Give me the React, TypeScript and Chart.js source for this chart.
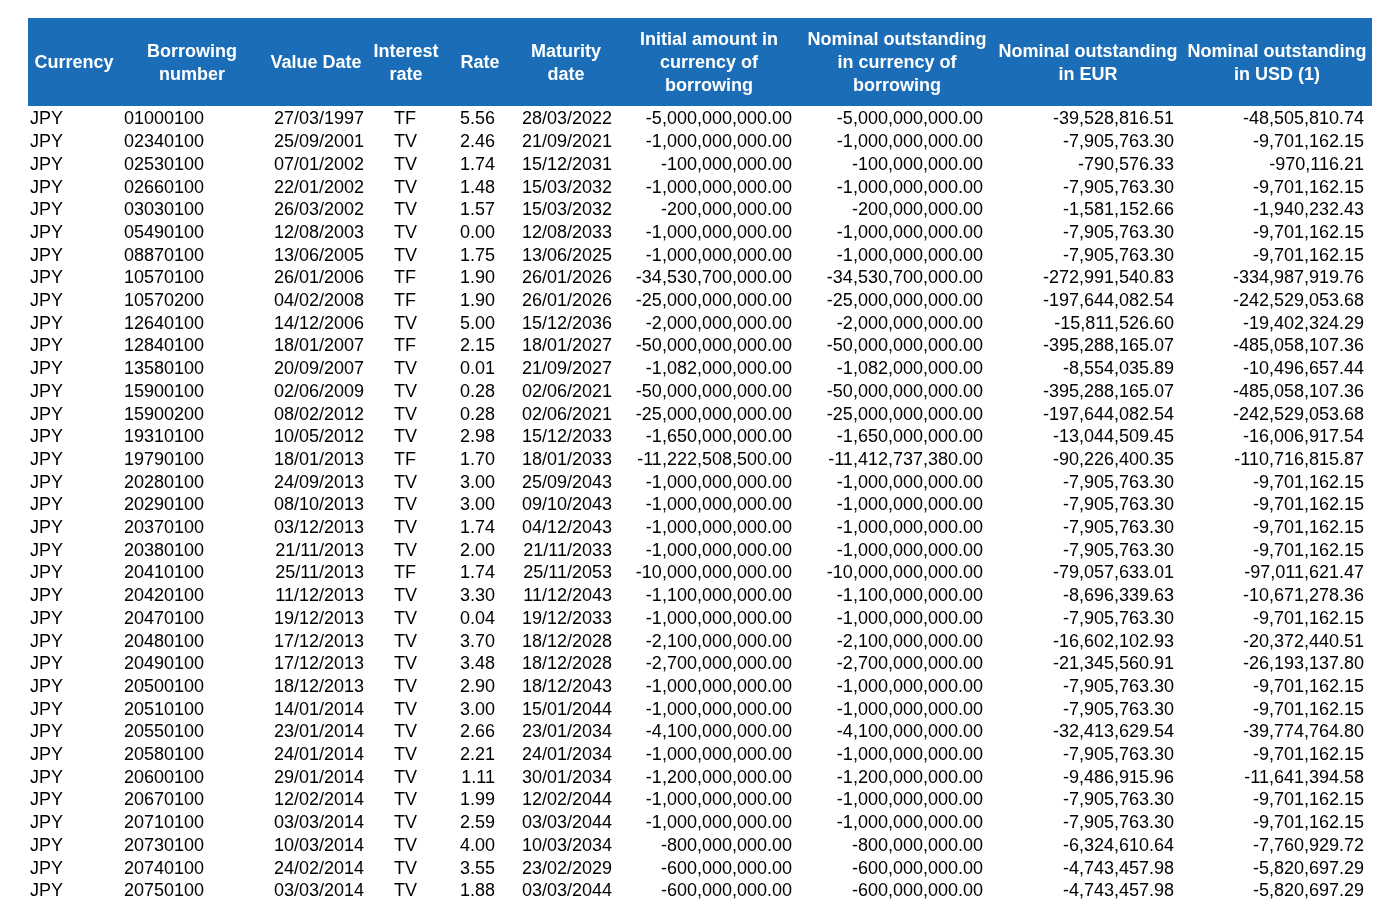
import React, { useEffect, useRef } from "react";
import { Chart, registerables } from "chart.js";

Chart.register(...registerables);

// ---------- DATA ----------
const headers: string[][] = [
  ["Currency"],
  ["Borrowing", "number"],
  ["Value Date"],
  ["Interest", "rate"],
  ["Rate"],
  ["Maturity", "date"],
  ["Initial amount in", "currency of", "borrowing"],
  ["Nominal outstanding", "in currency of", "borrowing"],
  ["Nominal outstanding", "in EUR"],
  ["Nominal outstanding", "in USD (1)"],
];

const currencies: string[] = Array.from({ length: 35 }, () => "JPY");

const borrowingNumbers: string[] = [
  "01000100", "02340100", "02530100", "02660100", "03030100", "05490100", "08870100",
  "10570100", "10570200", "12640100", "12840100", "13580100", "15900100", "15900200",
  "19310100", "19790100", "20280100", "20290100", "20370100", "20380100", "20410100",
  "20420100", "20470100", "20480100", "20490100", "20500100", "20510100", "20550100",
  "20580100", "20600100", "20670100", "20710100", "20730100", "20740100", "20750100",
];

const valueDates: string[] = [
  "27/03/1997", "25/09/2001", "07/01/2002", "22/01/2002", "26/03/2002", "12/08/2003", "13/06/2005",
  "26/01/2006", "04/02/2008", "14/12/2006", "18/01/2007", "20/09/2007", "02/06/2009", "08/02/2012",
  "10/05/2012", "18/01/2013", "24/09/2013", "08/10/2013", "03/12/2013", "21/11/2013", "25/11/2013",
  "11/12/2013", "19/12/2013", "17/12/2013", "17/12/2013", "18/12/2013", "14/01/2014", "23/01/2014",
  "24/01/2014", "29/01/2014", "12/02/2014", "03/03/2014", "10/03/2014", "24/02/2014", "03/03/2014",
];

const interestTypes: string[] = [
  "TF", "TV", "TV", "TV", "TV", "TV", "TV",
  "TF", "TF", "TV", "TF", "TV", "TV", "TV",
  "TV", "TF", "TV", "TV", "TV", "TV", "TF",
  "TV", "TV", "TV", "TV", "TV", "TV", "TV",
  "TV", "TV", "TV", "TV", "TV", "TV", "TV",
];

const rates: number[] = [
  5.56, 2.46, 1.74, 1.48, 1.57, 0.0, 1.75,
  1.9, 1.9, 5.0, 2.15, 0.01, 0.28, 0.28,
  2.98, 1.7, 3.0, 3.0, 1.74, 2.0, 1.74,
  3.3, 0.04, 3.7, 3.48, 2.9, 3.0, 2.66,
  2.21, 1.11, 1.99, 2.59, 4.0, 3.55, 1.88,
];

const maturityDates: string[] = [
  "28/03/2022", "21/09/2021", "15/12/2031", "15/03/2032", "15/03/2032", "12/08/2033", "13/06/2025",
  "26/01/2026", "26/01/2026", "15/12/2036", "18/01/2027", "21/09/2027", "02/06/2021", "02/06/2021",
  "15/12/2033", "18/01/2033", "25/09/2043", "09/10/2043", "04/12/2043", "21/11/2033", "25/11/2053",
  "11/12/2043", "19/12/2033", "18/12/2028", "18/12/2028", "18/12/2043", "15/01/2044", "23/01/2034",
  "24/01/2034", "30/01/2034", "12/02/2044", "03/03/2044", "10/03/2034", "23/02/2029", "03/03/2044",
];

const initialAmounts: number[] = [
  -5000000000, -1000000000, -100000000, -1000000000, -200000000, -1000000000, -1000000000,
  -34530700000, -25000000000, -2000000000, -50000000000, -1082000000, -50000000000, -25000000000,
  -1650000000, -11222508500, -1000000000, -1000000000, -1000000000, -1000000000, -10000000000,
  -1100000000, -1000000000, -2100000000, -2700000000, -1000000000, -1000000000, -4100000000,
  -1000000000, -1200000000, -1000000000, -1000000000, -800000000, -600000000, -600000000,
];

const nominalCcy: number[] = [
  -5000000000, -1000000000, -100000000, -1000000000, -200000000, -1000000000, -1000000000,
  -34530700000, -25000000000, -2000000000, -50000000000, -1082000000, -50000000000, -25000000000,
  -1650000000, -11412737380, -1000000000, -1000000000, -1000000000, -1000000000, -10000000000,
  -1100000000, -1000000000, -2100000000, -2700000000, -1000000000, -1000000000, -4100000000,
  -1000000000, -1200000000, -1000000000, -1000000000, -800000000, -600000000, -600000000,
];

const nominalEur: number[] = [
  -39528816.51, -7905763.3, -790576.33, -7905763.3, -1581152.66, -7905763.3, -7905763.3,
  -272991540.83, -197644082.54, -15811526.6, -395288165.07, -8554035.89, -395288165.07, -197644082.54,
  -13044509.45, -90226400.35, -7905763.3, -7905763.3, -7905763.3, -7905763.3, -79057633.01,
  -8696339.63, -7905763.3, -16602102.93, -21345560.91, -7905763.3, -7905763.3, -32413629.54,
  -7905763.3, -9486915.96, -7905763.3, -7905763.3, -6324610.64, -4743457.98, -4743457.98,
];

const nominalUsd: number[] = [
  -48505810.74, -9701162.15, -970116.21, -9701162.15, -1940232.43, -9701162.15, -9701162.15,
  -334987919.76, -242529053.68, -19402324.29, -485058107.36, -10496657.44, -485058107.36, -242529053.68,
  -16006917.54, -110716815.87, -9701162.15, -9701162.15, -9701162.15, -9701162.15, -97011621.47,
  -10671278.36, -9701162.15, -20372440.51, -26193137.8, -9701162.15, -9701162.15, -39774764.8,
  -9701162.15, -11641394.58, -9701162.15, -9701162.15, -7760929.72, -5820697.29, -5820697.29,
];

// ---------- FORMATTING ----------
const fmtMoney = (v: number): string => {
  const s = Math.abs(v).toFixed(2);
  const [i, d] = s.split(".");
  return (v < 0 ? "-" : "") + i.replace(/\B(?=(\d{3})+(?!\d))/g, ",") + "." + d;
};

const columnTexts: string[][] = [
  currencies,
  borrowingNumbers,
  valueDates,
  interestTypes,
  rates.map((r) => r.toFixed(2)),
  maturityDates,
  initialAmounts.map(fmtMoney),
  nominalCcy.map(fmtMoney),
  nominalEur.map(fmtMoney),
  nominalUsd.map(fmtMoney),
];

// ---------- LAYOUT / STYLE ----------
const W = 1400;
const H = 919;
const ROW_PX = 22.7;
const FIRST_ROW_PX = 118;
const Y_MIN = -FIRST_ROW_PX / ROW_PX;
const Y_MAX = Y_MIN + H / ROW_PX;

type Align = "left" | "right" | "center";
const colLayout: { headerX: number; dataX: number; align: Align }[] = [
  { headerX: 74, dataX: 30, align: "left" },
  { headerX: 192, dataX: 124, align: "left" },
  { headerX: 316, dataX: 364, align: "right" },
  { headerX: 406, dataX: 394, align: "left" },
  { headerX: 480, dataX: 495, align: "right" },
  { headerX: 566, dataX: 612, align: "right" },
  { headerX: 709, dataX: 792, align: "right" },
  { headerX: 897, dataX: 983, align: "right" },
  { headerX: 1088, dataX: 1174, align: "right" },
  { headerX: 1277, dataX: 1364, align: "right" },
];

const HEADER_LEFT = 28;
const HEADER_RIGHT = 1372;
const HEADER_TOP = Y_MIN + 18 / ROW_PX;
const HEADER_BOTTOM = Y_MIN + 106 / ROW_PX;
const HEADER_MID = Y_MIN + 62 / ROW_PX;
const HEADER_LINE_PX = 23;
const HEADER_BG = "#1a6db6";
const FONT_FAMILY = '"Liberation Sans", Arial, Helvetica, sans-serif';
const FONT_SIZE = 18;
const CAP_HALF = FONT_SIZE * 0.716 * 0.5;

const tablePlugin = {
  id: "tableText",
  beforeDatasetsDraw(chart: any) {
    const { ctx, scales } = chart;
    const xs = scales.x;
    const ys = scales.y;
    ctx.save();
    const left = xs.getPixelForValue(HEADER_LEFT);
    const right = xs.getPixelForValue(HEADER_RIGHT);
    const top = ys.getPixelForValue(HEADER_TOP);
    const bottom = ys.getPixelForValue(HEADER_BOTTOM);
    ctx.fillStyle = HEADER_BG;
    ctx.fillRect(left, top, right - left, bottom - top);
    ctx.fillStyle = "#ffffff";
    ctx.font = `bold ${FONT_SIZE}px ${FONT_FAMILY}`;
    ctx.textAlign = "center";
    ctx.textBaseline = "alphabetic";
    const mid = ys.getPixelForValue(HEADER_MID);
    headers.forEach((lines, c) => {
      const x = xs.getPixelForValue(colLayout[c].headerX);
      const n = lines.length;
      lines.forEach((line, k) => {
        const y = mid + (k - (n - 1) / 2) * HEADER_LINE_PX;
        ctx.fillText(line, x, y + CAP_HALF);
      });
    });
    ctx.restore();
  },
  afterDatasetsDraw(chart: any) {
    const { ctx } = chart;
    ctx.save();
    ctx.fillStyle = "#000000";
    ctx.font = `${FONT_SIZE}px ${FONT_FAMILY}`;
    ctx.textBaseline = "alphabetic";
    chart.data.datasets.forEach((ds: any, c: number) => {
      const meta = chart.getDatasetMeta(c);
      ctx.textAlign = colLayout[c].align;
      meta.data.forEach((el: any, i: number) => {
        ctx.fillText(columnTexts[c][i], el.x, el.y + CAP_HALF);
      });
    });
    ctx.restore();
  },
};

export default function App() {
  const ref = useRef<HTMLCanvasElement | null>(null);
  useEffect(() => {
    if (!ref.current) return;
    const chart = new Chart(ref.current, {
      type: "scatter",
      data: {
        datasets: columnTexts.map((col, c) => ({
          label: headers[c].join(" "),
          data: col.map((_, i) => ({ x: colLayout[c].dataX, y: i })),
          pointRadius: 0,
          pointHoverRadius: 0,
          showLine: false,
        })),
      },
      options: {
        responsive: false,
        animation: false,
        devicePixelRatio: 1,
        events: [],
        layout: { padding: 0 },
        plugins: { legend: { display: false }, tooltip: { enabled: false } },
        scales: {
          x: { type: "linear", min: 0, max: W, display: false },
          y: { type: "linear", min: Y_MIN, max: Y_MAX, reverse: true, display: false },
        },
      },
      plugins: [tablePlugin],
    } as any);
    return () => chart.destroy();
  }, []);
  return (
    <div style={{ position: "absolute", left: 0, top: 0, width: W, height: H, background: "#ffffff" }}>
      <canvas ref={ref} width={W} height={H} style={{ width: W, height: H, display: "block" }} />
    </div>
  );
}
